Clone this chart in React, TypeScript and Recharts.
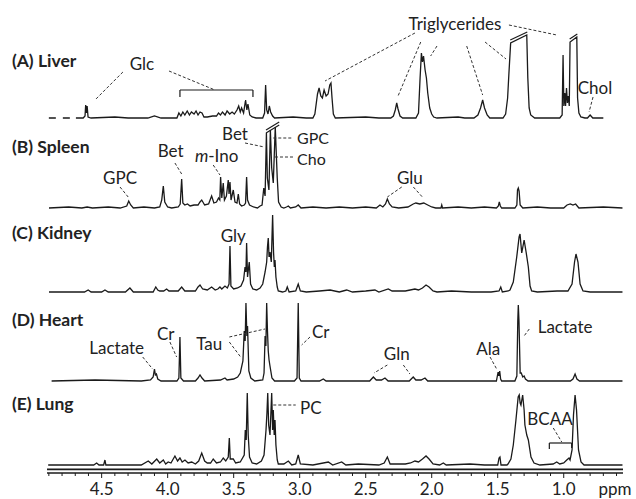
import React from 'react';
import { ComposedChart, Line, XAxis, YAxis, ReferenceLine, ReferenceDot } from 'recharts';

// ─── Spectra: [ppm, height above own baseline] ───────────────────────────────

type Pt = [number, number];

const liverDash: Pt[] = [[4.9, 0], [4.74, 0]];

const liver: Pt[] = [
  [4.695, 0], [4.64, 0], [4.626, 2], [4.621, 13], [4.615, 5], [4.61, 12], [4.603, 1], [4.58, 0], [4.4, 1], [4.3, 0],
  [4.15, 0], [4.1, 2], [4.05, 0],
  [3.93, 0], [3.915, 5], [3.9, 2], [3.885, 6], [3.87, 3], [3.852, 7], [3.835, 3], [3.82, 6], [3.8, 4], [3.785, 7],
  [3.77, 3], [3.755, 6], [3.74, 5], [3.725, 1], [3.7, 1], [3.66, 2], [3.63, 2], [3.615, 5], [3.6, 3], [3.585, 6],
  [3.565, 3], [3.55, 7], [3.53, 4], [3.512, 6], [3.495, 4], [3.475, 8], [3.462, 12], [3.45, 6], [3.44, 10],
  [3.425, 5], [3.41, 18], [3.4, 8], [3.392, 14], [3.378, 3], [3.36, 1], [3.33, 0],
  [3.28, 0], [3.266, 5], [3.258, 33], [3.25, 8], [3.24, 4], [3.23, 12], [3.22, 6], [3.205, 2], [3.19, 0], [3.05, 1], [2.95, 0],
  [2.9, 0], [2.885, 4], [2.865, 24], [2.853, 30], [2.84, 22], [2.828, 20], [2.815, 28], [2.8, 22], [2.785, 24],
  [2.772, 33], [2.763, 35], [2.755, 20], [2.745, 4], [2.73, 0], [2.5, 1], [2.4, 0],
  [2.31, 0], [2.29, 2], [2.276, 8], [2.265, 15], [2.255, 9], [2.24, 2], [2.22, 0],
  [2.12, 0], [2.1, 5], [2.088, 40], [2.078, 65], [2.07, 56], [2.062, 62], [2.05, 48], [2.04, 40], [2.03, 25],
  [2.015, 10], [2.0, 4], [1.985, 1], [1.96, 0], [1.8, 1], [1.75, 0],
  [1.68, 0], [1.65, 3], [1.63, 10], [1.614, 18], [1.6, 10], [1.58, 3], [1.56, 0],
  [1.46, 0], [1.44, 4], [1.425, 20], [1.415, 45], [1.402, 75], [1.28, 83], [1.272, 40], [1.262, 10], [1.25, 3], [1.22, 0],
  [1.03, 0], [1.012, 3], [1.005, 63], [0.999, 12], [0.992, 25], [0.986, 12], [0.979, 30], [0.972, 15], [0.965, 22],
  [0.958, 12], [0.952, 76], [0.901, 81], [0.895, 20], [0.885, 5], [0.87, 1], [0.84, 0], [0.82, 0], [0.8, 3],
  [0.78, 0], [0.7, 0],
];

const spleen: Pt[] = [
  [4.899, 0], [4.75, 1], [4.65, 0], [4.61, 1], [4.57, 0], [4.45, 1], [4.36, 0], [4.31, 2], [4.295, 7], [4.28, 3],
  [4.26, 0], [4.18, 1], [4.1, 0], [4.06, 1], [4.045, 8], [4.033, 22], [4.022, 6], [4.0, 1], [3.97, 0], [3.92, 1],
  [3.905, 4], [3.894, 29], [3.885, 5], [3.87, 3], [3.85, 4], [3.83, 2], [3.8, 3], [3.77, 3], [3.755, 6], [3.742, 8],
  [3.72, 3], [3.69, 4], [3.667, 12], [3.65, 5], [3.63, 6], [3.615, 10], [3.605, 8], [3.599, 31], [3.59, 10],
  [3.579, 25], [3.57, 8], [3.555, 12], [3.541, 28], [3.535, 14], [3.528, 26], [3.52, 8], [3.503, 18], [3.49, 6],
  [3.475, 5], [3.465, 14], [3.455, 4], [3.44, 2], [3.42, 3], [3.41, 5], [3.402, 31], [3.395, 8], [3.38, 3],
  [3.35, 1], [3.32, 0], [3.3, 2], [3.285, 3], [3.272, 20], [3.262, 12], [3.252, 75], [3.245, 30], [3.233, 18],
  [3.222, 78], [3.212, 40], [3.2, 25], [3.185, 81], [3.17, 30], [3.16, 6], [3.14, 1], [3.12, 0], [3.1, 1],
  [3.086, 2], [3.07, 0], [3.03, 1], [3.011, 3], [2.99, 0], [2.9, 1], [2.8, 0], [2.7, 1], [2.6, 0], [2.5, 1],
  [2.42, 0], [2.392, 3], [2.37, 1], [2.35, 4], [2.336, 9], [2.32, 4], [2.3, 1], [2.25, 0], [2.18, 1], [2.14, 4],
  [2.12, 5], [2.09, 4], [2.06, 5], [2.03, 3], [2.0, 1], [1.97, 0], [1.93, 0], [1.924, 3], [1.918, 0], [1.8, 1],
  [1.7, 0], [1.6, 1], [1.51, 0], [1.495, 2], [1.488, 6], [1.48, 2], [1.47, 0], [1.37, 0], [1.355, 3], [1.35, 18],
  [1.344, 20], [1.338, 17], [1.33, 3], [1.31, 0], [1.2, 1], [1.1, 0], [1.0, 0], [0.975, 3], [0.95, 4], [0.93, 3],
  [0.91, 4], [0.885, 0], [0.7, 1], [0.555, 0],
];

const kidney: Pt[] = [
  [4.899, 0], [4.63, 0], [4.602, 2], [4.58, 0], [4.5, 0], [4.475, 2], [4.45, 0], [4.32, 0], [4.286, 4], [4.26, 0],
  [4.11, 0], [4.09, 5], [4.075, 2], [4.06, 1], [4.03, 1], [4.008, 3], [3.99, 1], [3.92, 1], [3.894, 5], [3.87, 1],
  [3.79, 1], [3.77, 5], [3.755, 7], [3.735, 3], [3.7, 2], [3.667, 5], [3.64, 2], [3.62, 3], [3.604, 5], [3.59, 3],
  [3.566, 6], [3.548, 4], [3.535, 8], [3.528, 46], [3.521, 6], [3.5, 3], [3.47, 4], [3.445, 6], [3.425, 12],
  [3.414, 25], [3.407, 20], [3.402, 49], [3.395, 15], [3.382, 30], [3.372, 8], [3.355, 3], [3.326, 2], [3.3, 4],
  [3.28, 8], [3.262, 20], [3.25, 30], [3.244, 45], [3.238, 54], [3.232, 35], [3.225, 40], [3.215, 30], [3.205, 77],
  [3.198, 40], [3.192, 25], [3.187, 32], [3.18, 15], [3.17, 5], [3.162, 1], [3.13, 0], [3.105, 1], [3.094, 5],
  [3.08, 0], [3.03, 1], [3.011, 8], [2.995, 1], [2.95, 0], [2.85, 1], [2.77, 2], [2.7, 0], [2.644, 2], [2.6, 0],
  [2.5, 1], [2.43, 2], [2.4, 0], [2.329, 3], [2.3, 1], [2.2, 1], [2.127, 3], [2.1, 2], [2.07, 4], [2.043, 7],
  [2.02, 5], [1.99, 1], [1.96, 0], [1.85, 1], [1.7, 0], [1.55, 0], [1.49, 1], [1.477, 5], [1.465, 0], [1.42, 1],
  [1.407, 2], [1.382, 10], [1.356, 35], [1.338, 55], [1.331, 58], [1.318, 39], [1.3, 52], [1.285, 40], [1.268, 25],
  [1.255, 6], [1.243, 1], [1.2, 0], [1.05, 1], [0.968, 1], [0.937, 8], [0.918, 30], [0.907, 38], [0.892, 30],
  [0.876, 8], [0.854, 1], [0.8, 0], [0.555, 0],
];

const heart: Pt[] = [
  [4.879, 0], [4.55, 1], [4.2, 0], [4.13, 1], [4.11, 4], [4.1, 12], [4.093, 6], [4.085, 7], [4.075, 2], [4.05, 0],
  [3.93, 0], [3.915, 3], [3.907, 44], [3.9, 3], [3.88, 0], [3.79, 0], [3.77, 3], [3.755, 6], [3.74, 3], [3.72, 0],
  [3.6, 1], [3.566, 3], [3.55, 1], [3.5, 2], [3.47, 4], [3.45, 8], [3.43, 20], [3.42, 50], [3.413, 40], [3.407, 78],
  [3.4, 45], [3.395, 55], [3.385, 10], [3.37, 3], [3.34, 0], [3.28, 1], [3.27, 8], [3.262, 45], [3.256, 35],
  [3.25, 78], [3.244, 50], [3.238, 30], [3.232, 21], [3.225, 15], [3.21, 3], [3.19, 0], [3.04, 0], [3.02, 3],
  [3.011, 78], [3.003, 3], [2.99, 0], [2.85, 0], [2.821, 2], [2.8, 0], [2.47, 0], [2.442, 4], [2.42, 1], [2.38, 1],
  [2.354, 3], [2.33, 0], [2.17, 0], [2.14, 4], [2.12, 1], [2.08, 1], [2.051, 3], [2.03, 0], [1.51, 0], [1.497, 9],
  [1.492, 5], [1.485, 10], [1.478, 2], [1.47, 0], [1.37, 0], [1.355, 5], [1.348, 60], [1.344, 76], [1.339, 60],
  [1.33, 8], [1.322, 8], [1.31, 4], [1.3, 5], [1.29, 2], [1.27, 0], [0.95, 0], [0.93, 2], [0.914, 7], [0.9, 2],
  [0.88, 0], [0.555, 0],
];

const lung: Pt[] = [
  [4.905, 0], [4.56, 0], [4.538, 2], [4.52, 0], [4.485, 0], [4.475, 5], [4.468, 0], [4.2, 0], [4.147, 4], [4.12, 1],
  [4.083, 6], [4.06, 2], [4.033, 5], [4.015, 1], [3.996, 3], [3.975, 2], [3.945, 9], [3.925, 4], [3.907, 7],
  [3.89, 3], [3.869, 5], [3.845, 2], [3.818, 3], [3.79, 1], [3.765, 4], [3.742, 12], [3.72, 4], [3.7, 2],
  [3.675, 2], [3.655, 6], [3.63, 2], [3.6, 3], [3.579, 7], [3.56, 4], [3.541, 8], [3.533, 27], [3.526, 6],
  [3.503, 6], [3.485, 2], [3.45, 3], [3.42, 10], [3.412, 35], [3.405, 25], [3.397, 72], [3.39, 30], [3.38, 8],
  [3.36, 2], [3.326, 1], [3.29, 4], [3.27, 10], [3.255, 35], [3.248, 52], [3.242, 72], [3.235, 40], [3.225, 30],
  [3.212, 72], [3.205, 35], [3.2, 55], [3.193, 30], [3.187, 45], [3.18, 20], [3.17, 5], [3.162, 1], [3.12, 1],
  [3.086, 4], [3.06, 0], [3.03, 1], [3.011, 10], [2.995, 1], [2.9, 0], [2.783, 3], [2.75, 0], [2.682, 3], [2.65, 0],
  [2.556, 1], [2.4, 0], [2.36, 2], [2.336, 8], [2.315, 1], [2.2, 1], [2.16, 2], [2.127, 4], [2.1, 3], [2.07, 6],
  [2.043, 9], [2.02, 6], [1.99, 1], [1.94, 0], [1.912, 2], [1.89, 0], [1.71, 1], [1.6, 0], [1.5, 0], [1.49, 7],
  [1.483, 8], [1.475, 0], [1.43, 0], [1.422, 1], [1.4, 6], [1.382, 20], [1.362, 45], [1.345, 68], [1.337, 70],
  [1.33, 62], [1.324, 60], [1.311, 70], [1.3, 55], [1.294, 40], [1.28, 30], [1.268, 25], [1.248, 8], [1.225, 2],
  [1.18, 0], [1.08, 1], [1.053, 3], [1.03, 1], [1.0, 2], [0.977, 5], [0.96, 7], [0.952, 5], [0.937, 15],
  [0.926, 50], [0.914, 70], [0.903, 55], [0.888, 15], [0.869, 3], [0.846, 0], [0.555, 0],
];

const PANELS = ['(A) Liver', '(B) Spleen', '(C) Kidney', '(D) Heart', '(E) Lung'];
const PPM_TICKS = [4.9, 4.8, 4.7, 4.6, 4.5, 4.4, 4.3, 4.2, 4.1, 4.0, 3.9, 3.8, 3.7, 3.6, 3.5, 3.4, 3.3, 3.2, 3.1, 3.0,
  2.9, 2.8, 2.7, 2.6, 2.5, 2.4, 2.3, 2.2, 2.1, 2.0, 1.9, 1.8, 1.7, 1.6, 1.5, 1.4, 1.3, 1.2, 1.1, 1.0, 0.9, 0.8, 0.7, 0.6];

// ─── Layout (vertical offsets of each trace and annotations) ────────────────

const BASES = [355, 265, 181, 92, 8];
const PANEL_Y = [413, 327, 241, 154, 70];

const NOTES: { t: string; x: number; y: number; anchor?: 'start' | 'middle'; size?: number }[] = [
  { t: 'Glc', x: 4.195, y: 410 },
  { t: 'Triglycerides', x: 1.824, y: 450 },
  { t: 'Chol', x: 0.763, y: 386 },
  { t: 'GPC', x: 4.361, y: 296 },
  { t: 'Bet', x: 3.977, y: 323 },
  { t: 'Bet', x: 3.49, y: 340 },
  { t: 'GPC', x: 3.02, y: 336, anchor: 'start', size: 16 },
  { t: 'Cho', x: 3.02, y: 315, anchor: 'start', size: 16 },
  { t: 'Glu', x: 2.165, y: 296 },
  { t: 'Gly', x: 3.503, y: 238 },
  { t: 'Lactate', x: 4.386, y: 126 },
  { t: 'Cr', x: 4.015, y: 140 },
  { t: 'Tau', x: 3.685, y: 130 },
  { t: 'Cr', x: 2.841, y: 142 },
  { t: 'Gln', x: 2.265, y: 120 },
  { t: 'Ala', x: 1.571, y: 125 },
  { t: 'Lactate', x: 0.99, y: 147 },
  { t: 'PC', x: 2.998, y: 66, anchor: 'start' },
  { t: 'BCAA', x: 1.104, y: 55 },
];

type Seg = [Pt, Pt];

const LEADERS: Seg[] = [
  [[4.339, 401], [4.543, 374]], [[3.99, 402], [3.642, 383]],
  [[2.127, 440], [2.808, 392]], [[2.083, 431], [2.255, 377]], [[1.96, 427], [2.008, 417]],
  [[1.735, 427], [1.614, 378]], [[1.596, 431], [1.437, 414]], [[1.415, 448], [1.053, 438]],
  [[0.778, 376], [0.808, 361]],
  [[4.361, 286], [4.299, 276]], [[3.945, 310], [3.894, 299]], [[3.655, 308], [3.604, 298]],
  [[3.414, 330], [3.268, 326]], [[3.2, 335], [3.05, 335]], [[3.187, 316], [3.05, 316]],
  [[2.227, 286], [2.336, 276]], [[2.139, 286], [2.064, 275]],
  [[4.189, 116], [4.114, 104]], [[3.983, 131], [3.932, 116]], [[3.533, 131], [3.447, 116]],
  [[3.533, 136], [3.263, 144]], [[2.922, 136], [2.985, 128]], [[2.336, 108], [2.437, 100]],
  [[2.215, 108], [2.165, 99]], [[1.558, 116], [1.508, 104]], [[1.261, 144], [1.306, 136]],
  [[3.2, 68], [3.03, 68]], [[1.079, 45], [1.015, 31]],
];

const SOLID: Seg[] = [
  // Glc bracket
  [[3.907, 376], [3.907, 383]], [[3.907, 383], [3.354, 383]], [[3.354, 383], [3.354, 376]],
  // BCAA bracket
  [[1.109, 24], [1.109, 30]], [[1.109, 30], [0.94, 30]], [[0.94, 30], [0.94, 25]],
  // axis break marks
  [[1.405, 433], [1.276, 441]], [[0.955, 434], [0.897, 439]],
  [[3.255, 340], [3.155, 348]], [[3.255, 343], [3.155, 351]],
];

const INK = '#1a1a1a';
const FONT = 'Lato, "Open Sans", sans-serif';

const rows = (pts: Pt[], base: number) => pts.map(([ppm, h]) => ({ ppm, y: base + h }));

function Tick(props: any) {
  const { x, y, payload } = props;
  const v = payload.value as number;
  const major = Math.abs(v * 2 - Math.round(v * 2)) < 1e-6;
  return (
    <g>
      <line x1={x} x2={x} y1={y} y2={y + (major ? 5 : 3)} stroke={INK} strokeWidth={1} />
      {major && (
        <text x={x} y={y + 15} textAnchor="middle" dominantBaseline="central" fontSize={17} fill="#222" fontFamily={FONT}>
          {v.toFixed(1)}
        </text>
      )}
    </g>
  );
}

const textShape = (t: string, opts: { anchor?: string; bold?: boolean; size?: number }) => (p: any) => (
  <text
    x={p.cx}
    y={p.cy}
    textAnchor={opts.anchor ?? 'middle'}
    dominantBaseline="central"
    fontSize={opts.size ?? 17}
    fontWeight={opts.bold ? 700 : 400}
    fill="#222"
    fontFamily={FONT}
  >
    {t}
  </text>
);

const mInoShape = (p: any) => (
  <text x={p.cx} y={p.cy} textAnchor="middle" dominantBaseline="central" fontSize={17} fill="#222" fontFamily={FONT}>
    <tspan fontStyle="italic">m</tspan>-Ino
  </text>
);

export default function App() {
  const spectra = [liver, spleen, kidney, heart, lung];
  return (
    <div style={{ position: 'absolute', left: 0, top: 0, width: 636, height: 499, background: '#fff' }}>
      <ComposedChart width={636} height={499} margin={{ top: 0, right: 13, bottom: 0, left: 47 }}>
        <XAxis
          type="number"
          dataKey="ppm"
          domain={[0.551, 4.914]}
          reversed
          allowDataOverflow
          ticks={PPM_TICKS}
          interval={0}
          height={26}
          tickSize={0}
          tickMargin={0}
          tick={<Tick />}
          tickLine={false}
          axisLine={{ stroke: INK, strokeWidth: 1.3 }}
        />
        <YAxis type="number" domain={[0, 473]} hide allowDataOverflow />
        <ReferenceLine y={3.6} stroke={INK} strokeWidth={1.6} ifOverflow="visible" />

        <Line
          data={rows(liverDash, BASES[0])}
          dataKey="y"
          stroke={INK}
          strokeWidth={1.3}
          strokeDasharray="7 7"
          dot={false}
          type="linear"
          isAnimationActive={false}
        />
        {spectra.map((s, i) => (
          <Line
            key={i}
            data={rows(s, BASES[i])}
            dataKey="y"
            stroke={INK}
            strokeWidth={1.3}
            dot={false}
            type="linear"
            isAnimationActive={false}
          />
        ))}

        {LEADERS.map(([a, b], i) => (
          <ReferenceLine
            key={`l${i}`}
            segment={[{ x: a[0], y: a[1] }, { x: b[0], y: b[1] }]}
            stroke="#333"
            strokeWidth={1}
            strokeDasharray="3 2"
            ifOverflow="visible"
          />
        ))}
        {SOLID.map(([a, b], i) => (
          <ReferenceLine
            key={`s${i}`}
            segment={[{ x: a[0], y: a[1] }, { x: b[0], y: b[1] }]}
            stroke={INK}
            strokeWidth={1.2}
            ifOverflow="visible"
          />
        ))}

        {PANELS.map((p, i) => (
          <ReferenceDot key={`p${i}`} x={5.18} y={PANEL_Y[i]} r={0} ifOverflow="visible"
            shape={textShape(p, { anchor: 'start', bold: true, size: 17.5 })} />
        ))}
        {NOTES.map((n, i) => (
          <ReferenceDot key={`n${i}`} x={n.x} y={n.y} r={0} ifOverflow="visible"
            shape={textShape(n.t, { anchor: n.anchor, size: n.size })} />
        ))}
        <ReferenceDot x={3.629} y={318} r={0} ifOverflow="visible" shape={mInoShape} />
        <ReferenceDot x={0.611} y={-15} r={0} ifOverflow="visible" shape={textShape('ppm', {})} />
      </ComposedChart>
    </div>
  );
}
